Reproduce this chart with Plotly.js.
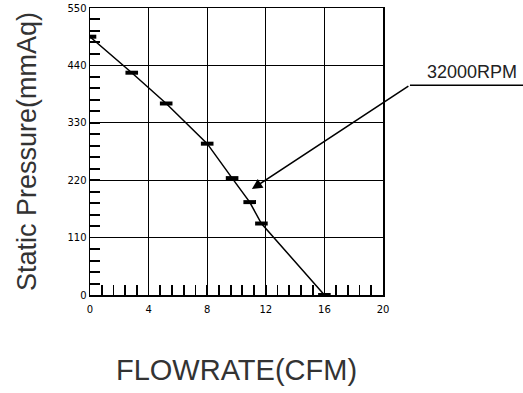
<!DOCTYPE html>
<html>
<head>
<meta charset="utf-8">
<script src="https://cdn.plot.ly/plotly-3.0.1.min.js"></script>
<style>html,body{margin:0;padding:0;background:#fff;}#chart{width:523px;height:393px;}</style>
</head>
<body>
<div id="chart"></div>
<script>
var flowrate = [0, 2.85, 5.2, 8.0, 9.7, 10.9, 11.7, 16.0];
var pressure = [495, 426, 367, 290, 224, 178, 137, 0];
var xTickStep = 4;
var yTickStep = 110;
var seriesLabel = "32000RPM";
var arrowTarget = [11.05, 203];

function minorVals(max, step) {
  var out = [];
  for (var i = 1; i * step < max; i++) { if (i % 5 !== 0) out.push(i * step); }
  return out;
}

var trace = {
  x: flowrate, y: pressure, type: 'scatter', mode: 'lines+markers',
  line: {color: '#000', width: 1.5},
  marker: {symbol: 'line-ew', size: 9, color: '#000', line: {color: '#000', width: 4}},
  showlegend: false, hoverinfo: 'skip'
};

var axCommon = {
  showgrid: true, gridcolor: '#000', gridwidth: 1.3,
  showline: true, linecolor: '#000', linewidth: 1.5, mirror: true,
  zeroline: false, ticks: 'inside', ticklen: 10, tickwidth: 1.5, tickcolor: '#000',
  tickfont: {family: 'DejaVu Sans', size: 10, color: '#000'},
  tickmode: 'linear', tick0: 0,
  fixedrange: true
};

var layout = {
  width: 523, height: 393,
  margin: {l: 90, r: 140, t: 8, b: 98},
  paper_bgcolor: '#fff', plot_bgcolor: '#fff',
  xaxis: Object.assign({}, axCommon, {
    range: [0, 20], dtick: xTickStep, ticklabelstandoff: 4,
    minor: {tickmode: 'array', tickvals: minorVals(20, xTickStep / 5), ticks: 'inside', ticklen: 10, tickwidth: 1.8, tickcolor: '#000', showgrid: false},
    title: {text: 'FLOWRATE(CFM)', font: {family: 'Liberation Sans, Arial', size: 29, color: '#333'}, standoff: 46}
  }),
  yaxis: Object.assign({}, axCommon, {
    range: [0, 550], dtick: yTickStep,
    minor: {tickmode: 'array', tickvals: minorVals(550, yTickStep / 5), ticks: 'inside', ticklen: 10, tickwidth: 2, tickcolor: '#000', showgrid: false},
    title: {text: 'Static Pressure(mmAq)', font: {family: 'Liberation Sans, Arial', size: 27, color: '#333'}, standoff: 23}
  }),
  annotations: [
    {x: arrowTarget[0], y: arrowTarget[1], xref: 'x', yref: 'y', text: '', showarrow: true,
     ax: 158, ay: -104, arrowhead: 2, arrowsize: 1.3, arrowwidth: 1.6, arrowcolor: '#000'},
    {x: 1.464, y: 0.734, xref: 'paper', yref: 'paper', text: seriesLabel, showarrow: false,
     xanchor: 'right', yanchor: 'bottom', font: {family: 'Liberation Sans, Arial', size: 18, color: '#222'}}
  ],
  shapes: [
    {type: 'line', xref: 'paper', yref: 'paper', x0: 1.092, x1: 1.48, y0: 0.731, y1: 0.731,
     line: {color: '#000', width: 1.5}}
  ]
};

Plotly.newPlot('chart', [trace], layout, {displayModeBar: false, staticPlot: true});
</script>
</body>
</html>
